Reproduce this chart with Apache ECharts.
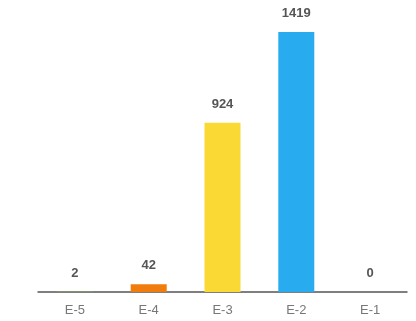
<!DOCTYPE html>
<html><head><meta charset="utf-8">
<script src="https://cdn.jsdelivr.net/npm/echarts@6/dist/echarts.min.js"></script>
<style>html,body{margin:0;padding:0;background:#fff}#c{width:416px;height:321px}</style>
</head><body><div id="c"></div>
<script>
var categories = ['E-5', 'E-4', 'E-3', 'E-2', 'E-1'];
var values = [2, 42, 924, 1419, 0];
var colors = ['#8BC34A', '#F07C0E', '#FBD935', '#29ABF0', '#9C27B0'];

var chart = echarts.init(document.getElementById('c'));
chart.setOption({
  animation: false,
  grid: { left: 38, right: 9, top: 32, bottom: 29 },
  xAxis: {
    type: 'category',
    data: categories,
    axisLine: { lineStyle: { color: '#555', width: 1.5 } },
    axisTick: { show: false },
    axisLabel: { color: '#777', fontSize: 13, margin: 12, fontFamily: 'Liberation Sans, Arial, sans-serif' }
  },
  yAxis: { type: 'value', show: false, min: 0, max: 1419, splitLine: { show: false } },
  series: [{
    type: 'bar',
    barWidth: 36,
    data: values.map(function (v, i) { return { value: v, itemStyle: { color: colors[i] } }; }),
    label: {
      show: true, position: 'top', distance: 12,
      color: '#555', fontWeight: 'bold', fontSize: 13,
      fontFamily: 'Liberation Sans, Arial, sans-serif'
    }
  }]
});
</script></body></html>
